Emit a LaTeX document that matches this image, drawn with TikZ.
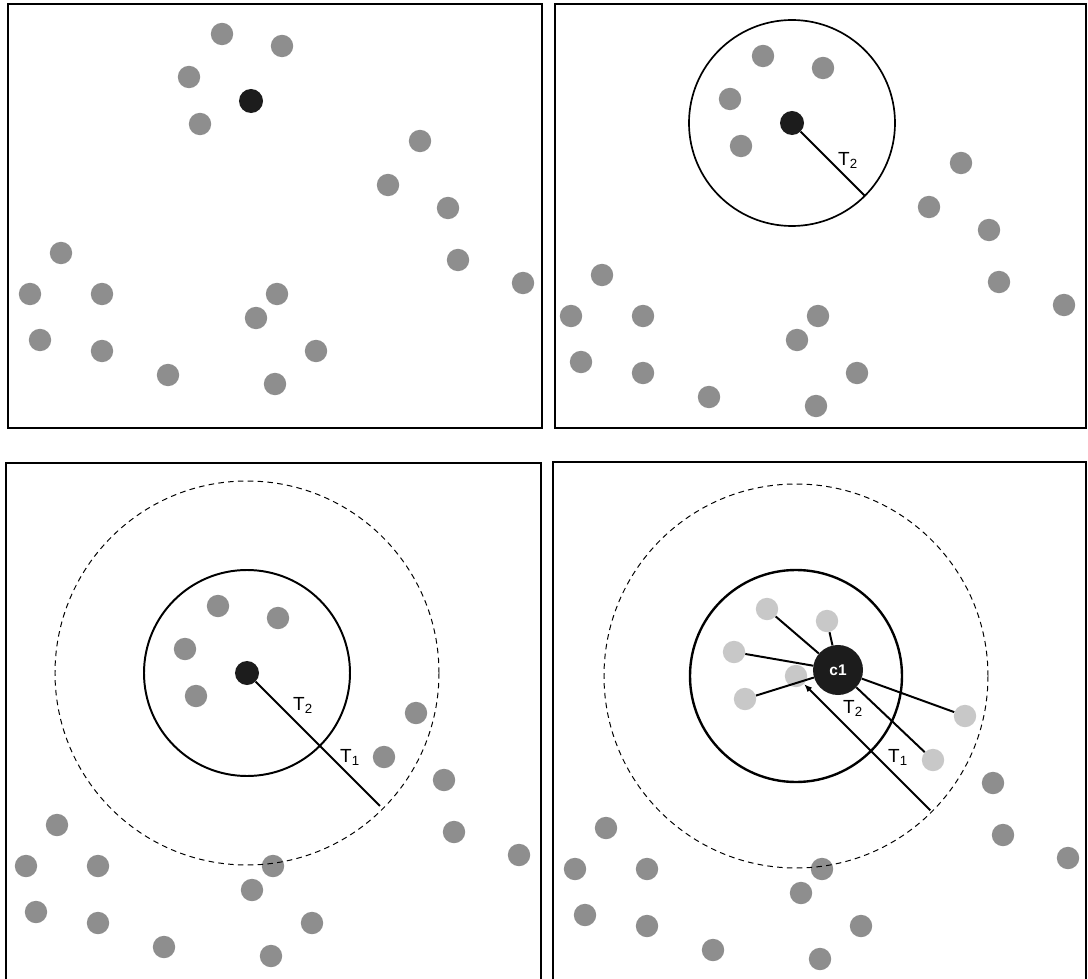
\documentclass[tikz,border=0pt]{standalone}
\usepackage{fontspec}
\setmainfont{Liberation Sans}
\usetikzlibrary{arrows.meta}
\definecolor{dotgray}{HTML}{8E8E8E}
\definecolor{dotlight}{HTML}{C8C8C8}
\definecolor{dotdark}{HTML}{1C1C1C}
% points inside the outer radius, and the rest
\newcommand\innerpts{222/34,282/46,189/77,200/124,420/141,388/185}
\newcommand\outerpts{448/208,458/260,523/283,61/253,30/294,102/294,40/340,102/351,168/375,277/294,256/318,316/351,275/384}

\begin{document}
\begin{tikzpicture}[x=0.025cm,y=-0.025cm,every node/.style={font=\fontsize{13.5}{15}\selectfont},
  gdot/.style={circle,fill=dotgray,minimum size=0.56cm,inner sep=0pt},
  ldot/.style={circle,fill=dotlight,minimum size=0.56cm,inner sep=0pt},
  bdot/.style={circle,fill=dotdark,minimum size=0.6cm,inner sep=0pt},
  panel/.style={draw=black,line width=1.4pt},
  ring/.style={draw=black,line width=1.2pt},
  outer/.style={draw=black,line width=0.7pt,dash pattern=on 4pt off 3pt},
  rad/.style={draw=black,line width=1.4pt}]
\clip (0,0) rectangle (1088,979);
\draw[panel] (8,4) rectangle (542,428);
\draw[panel] (555,4) rectangle (1086,428);
\draw[panel] (6,463) rectangle (541,995);
\draw[panel] (553,462) rectangle (1086,995);
% top left
\foreach \x/\y [count=\i] in \innerpts {\node[gdot] (ai\i) at (\x,\y) {};}
\foreach \x/\y [count=\i] in \outerpts {\node[gdot] (ao\i) at (\x,\y) {};}
\node[bdot] (actr) at (251,101) {};
% top right
\begin{scope}[shift={(541,22)}]
\foreach \x/\y [count=\i] in \innerpts {\node[gdot] (bi\i) at (\x,\y) {};}
\foreach \x/\y [count=\i] in \outerpts {\node[gdot] (bo\i) at (\x,\y) {};}
\node[bdot] (bctr) at (251,101) {};
\draw[ring] (bctr.center) circle[radius=103];
\coordinate (bend) at ([shift={(45:103)}]bctr.center);
\draw[rad] (bctr) -- (bend);
\node (btwo) at ([shift={(56,37)}]bctr.center) {T\textsubscript{2}};
\end{scope}
% bottom left
\begin{scope}[shift={(-4,572)}]
\foreach \x/\y [count=\i] in \innerpts {\node[gdot] (ci\i) at (\x,\y) {};}
\foreach \x/\y [count=\i] in \outerpts {\node[gdot] (co\i) at (\x,\y) {};}
\node[bdot] (cctr) at (251,101) {};
\draw[ring,line width=1.4pt] (cctr.center) circle[radius=103];
\draw[outer] (cctr.center) circle[radius=192];
\coordinate (cend) at ([shift={(45:188)}]cctr.center);
\draw[rad] (cctr) -- (cend);
\node (ctwo) at ([shift={(56,32)}]cctr.center) {T\textsubscript{2}};
\node (cone) at ([shift={(103,84)}]cctr.center) {T\textsubscript{1}};
\end{scope}
% bottom right
\begin{scope}[shift={(545,575)}]
\foreach \x/\y [count=\i] in \innerpts {\node[ldot] (di\i) at (\x,\y) {};}
\foreach \x/\y [count=\i] in \outerpts {\node[gdot] (do\i) at (\x,\y) {};}
\node[ldot] (dctr) at (251,101) {};
\draw[ring,line width=1.7pt] (dctr.center) circle[radius=106];
\draw[outer] (dctr.center) circle[radius=192];
\coordinate (dend) at ([shift={(45:190)}]dctr.center);
\draw[rad,{Latex[length=2mm,width=1.6mm]}-] (dctr) -- (dend);
\node[bdot,minimum size=1.25cm,text=white,font=\fontsize{11}{12}\selectfont\bfseries] (c1) at (293,95) {c1};
\foreach \i in {1,...,6} {\draw[rad] (c1) -- (di\i);}
\node (dtwo) at ([shift={(57,32)}]dctr.center) {T\textsubscript{2}};
\node (done) at ([shift={(102,81)}]dctr.center) {T\textsubscript{1}};
\end{scope}
\end{tikzpicture}
\end{document}
